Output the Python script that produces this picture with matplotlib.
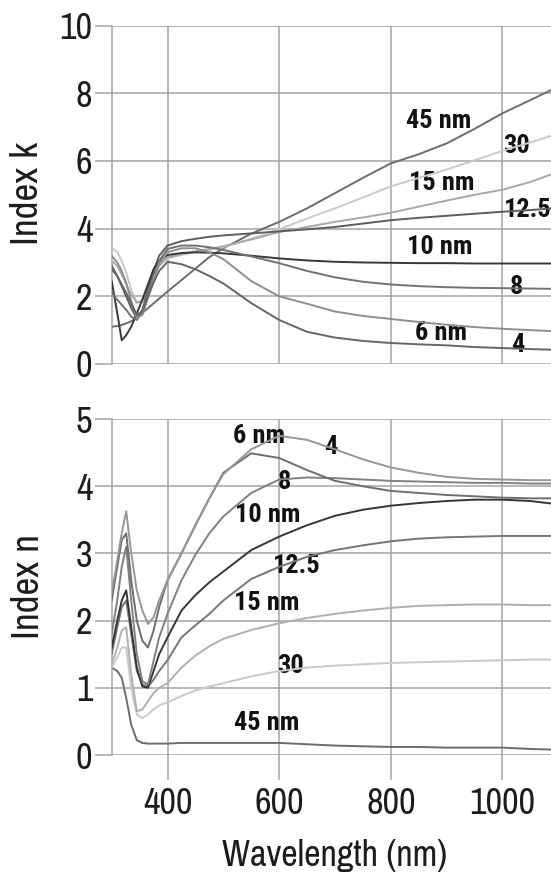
import matplotlib
matplotlib.use("Agg")
import matplotlib.pyplot as plt

AXIS_FONT = ["Archivo Narrow", "Liberation Sans", "DejaVu Sans"]
LABEL_FONT = ["Roboto Condensed", "Fira Sans Condensed", "Liberation Sans", "DejaVu Sans"]
plt.rcParams["font.family"] = AXIS_FONT

# --- data -------------------------------------------------------------------
wavelength = [300, 310, 318, 326, 335, 345, 355, 365, 375, 385, 400, 425, 450, 475,
              500, 550, 600, 650, 700, 750, 800, 850, 900, 950, 1000, 1050, 1090]

# extinction coefficient k per film thickness
k_45 = [1.10, 1.12, 1.15, 1.20, 1.26, 1.37, 1.51, 1.65, 1.79, 1.93, 2.14, 2.48, 2.82, 3.16,
        3.42, 3.85, 4.20, 4.60, 5.05, 5.50, 5.93, 6.20, 6.52, 6.95, 7.41, 7.80, 8.12]
k_30 = [3.45, 3.30, 3.05, 2.70, 2.20, 1.80, 1.90, 2.30, 2.65, 2.92, 3.12, 3.22, 3.30, 3.37,
        3.45, 3.70, 3.98, 4.30, 4.60, 4.92, 5.25, 5.50, 5.75, 6.02, 6.30, 6.55, 6.76]
k_15 = [3.05, 2.90, 2.65, 2.35, 2.05, 1.82, 1.85, 2.20, 2.60, 2.90, 3.15, 3.25, 3.33, 3.40,
        3.48, 3.68, 3.90, 4.05, 4.20, 4.33, 4.47, 4.65, 4.83, 5.00, 5.15, 5.38, 5.62]
k_125 = [2.90, 2.60, 2.30, 2.00, 1.65, 1.35, 1.60, 2.20, 2.75, 3.20, 3.50, 3.63, 3.70, 3.76,
         3.80, 3.86, 3.92, 3.98, 4.05, 4.15, 4.25, 4.32, 4.38, 4.44, 4.50, 4.55, 4.60]
k_10 = [2.45, 1.50, 0.70, 0.85, 1.10, 1.50, 1.90, 2.35, 2.80, 3.05, 3.22, 3.28, 3.30, 3.29,
        3.27, 3.20, 3.12, 3.06, 3.02, 3.00, 2.99, 2.98, 2.98, 2.97, 2.97, 2.97, 2.97]
k_8 = [2.10, 1.90, 1.75, 1.60, 1.40, 1.30, 1.55, 2.10, 2.60, 3.05, 3.40, 3.50, 3.50, 3.45,
       3.37, 3.18, 2.98, 2.75, 2.56, 2.43, 2.35, 2.30, 2.27, 2.25, 2.24, 2.23, 2.22]
k_6 = [3.20, 3.00, 2.75, 2.40, 1.85, 1.35, 1.45, 1.95, 2.50, 2.95, 3.30, 3.42, 3.42, 3.30,
       3.10, 2.45, 2.00, 1.78, 1.55, 1.42, 1.33, 1.24, 1.16, 1.09, 1.04, 1.00, 0.97]
k_4 = [2.80, 2.60, 2.35, 2.10, 1.80, 1.45, 1.55, 2.00, 2.40, 2.75, 3.02, 2.95, 2.80, 2.60,
       2.38, 1.80, 1.30, 0.95, 0.78, 0.68, 0.62, 0.58, 0.55, 0.50, 0.47, 0.44, 0.42]

# refractive index n per film thickness
n_45 = [1.30, 1.25, 1.15, 0.85, 0.45, 0.22, 0.18, 0.17, 0.17, 0.17, 0.17, 0.18, 0.18, 0.18,
        0.18, 0.18, 0.18, 0.16, 0.14, 0.13, 0.12, 0.12, 0.11, 0.11, 0.11, 0.09, 0.08]
n_30 = [1.30, 1.45, 1.60, 1.60, 1.00, 0.60, 0.55, 0.60, 0.68, 0.74, 0.78, 0.88, 0.96, 1.02,
        1.07, 1.17, 1.25, 1.30, 1.33, 1.35, 1.37, 1.38, 1.39, 1.40, 1.41, 1.42, 1.42]
n_15 = [1.35, 1.60, 1.85, 1.90, 1.20, 0.65, 0.68, 0.80, 0.92, 1.00, 1.07, 1.30, 1.48, 1.62,
        1.73, 1.86, 1.96, 2.04, 2.10, 2.15, 2.19, 2.22, 2.23, 2.24, 2.24, 2.23, 2.23]
n_125 = [1.50, 1.90, 2.20, 2.30, 1.80, 1.25, 1.05, 1.02, 1.12, 1.25, 1.41, 1.75, 1.93, 2.10,
         2.30, 2.62, 2.80, 2.95, 3.05, 3.12, 3.18, 3.22, 3.24, 3.25, 3.26, 3.26, 3.26]
n_10 = [1.60, 2.00, 2.30, 2.45, 1.90, 1.30, 1.02, 1.00, 1.25, 1.50, 1.75, 2.15, 2.38, 2.57,
        2.73, 3.05, 3.25, 3.42, 3.56, 3.65, 3.71, 3.75, 3.78, 3.80, 3.80, 3.78, 3.74]
n_8 = [1.80, 2.30, 2.80, 3.10, 2.30, 1.50, 1.10, 1.05, 1.40, 1.75, 2.10, 2.60, 2.98, 3.30,
       3.55, 3.90, 4.10, 4.13, 4.12, 4.10, 4.08, 4.07, 4.06, 4.05, 4.05, 4.04, 4.04]
n_6 = [2.30, 2.80, 3.20, 3.30, 2.60, 2.00, 1.70, 1.60, 1.85, 2.20, 2.60, 3.00, 3.42, 3.82,
       4.20, 4.49, 4.42, 4.24, 4.08, 4.00, 3.93, 3.90, 3.87, 3.85, 3.83, 3.82, 3.82]
n_4 = [2.40, 2.90, 3.30, 3.63, 3.00, 2.45, 2.15, 1.95, 2.05, 2.30, 2.60, 3.00, 3.42, 3.82,
       4.18, 4.55, 4.75, 4.69, 4.55, 4.40, 4.28, 4.20, 4.14, 4.11, 4.10, 4.09, 4.09]

# inline labels: text, wavelength, value
k_labels = [("45 nm", 885, 7.18), ("30", 1026, 6.44), ("15 nm", 892, 5.35),
            ("12.5", 1045, 4.55), ("10 nm", 888, 3.46), ("8", 1025, 2.28),
            ("6 nm", 890, 0.92), ("4", 1027, 0.55)]
n_labels = [("6 nm", 564, 4.75), ("4", 693, 4.58), ("8", 609, 4.06),
            ("10 nm", 579, 3.57), ("12.5", 632, 2.81), ("15 nm", 577, 2.26),
            ("30", 620, 1.32), ("45 nm", 578, 0.48)]

k_curves = [(k_45, "#6c6c6c"), (k_30, "#c9c9c9"), (k_15, "#a9a9a9"), (k_125, "#5e5e5e"),
            (k_10, "#383838"), (k_8, "#727272"), (k_6, "#8e8e8e"), (k_4, "#666666")]
n_curves = [(n_45, "#6c6c6c"), (n_30, "#c9c9c9"), (n_15, "#b0b0b0"), (n_125, "#767676"),
            (n_10, "#363636"), (n_8, "#808080"), (n_6, "#6e6e6e"), (n_4, "#969696")]

GRID = "#a4a4a4"
INK = "#1c1c1c"

fig = plt.figure(figsize=(5.51, 8.77), dpi=100)
ax_k = fig.add_axes([0.2027, 0.585, 0.7973, 0.3857])
ax_n = fig.add_axes([0.2027, 0.1391, 0.7973, 0.3831])


def style_axes(ax, ymax, yticks, show_x):
    ax.set_xlim(300, 1087)
    ax.set_ylim(0, ymax)
    ax.set_yticks(yticks)
    ax.set_xticks([400, 600, 800, 1000])
    ax.set_axisbelow(True)
    ax.grid(True, color=GRID, linewidth=1.1)
    for side in ["top", "right", "bottom"]:
        ax.spines[side].set_visible(False)
    ax.spines["left"].set_color(GRID)
    ax.spines["left"].set_linewidth(1.1)
    ax.tick_params(axis="y", length=12, width=1.1, color=GRID, pad=2,
                   labelsize=26, labelcolor=INK)
    if show_x:
        ax.tick_params(axis="x", length=18, width=1.1, color=GRID, pad=5,
                       labelsize=26, labelcolor=INK)
    else:
        ax.tick_params(axis="x", length=0, labelbottom=False)


for ax, curves, labels in [(ax_k, k_curves, k_labels), (ax_n, n_curves, n_labels)]:
    for values, color in curves:
        ax.plot(wavelength, values, color=color, linewidth=1.4, zorder=3)
    for text, x, y in labels:
        ax.text(x, y, text, ha="center", va="center", fontsize=19, fontweight="bold",
                family=LABEL_FONT, color="#111111", zorder=2)

style_axes(ax_k, 10, [0, 2, 4, 6, 8, 10], False)
style_axes(ax_n, 5, [0, 1, 2, 3, 4, 5], True)

fig.text(0.050, 0.78, "Index k", rotation=90, ha="center", va="center",
         fontsize=28, color=INK)
fig.text(0.052, 0.331, "Index n", rotation=90, ha="center", va="center",
         fontsize=28, color=INK)
fig.text(0.608, 0.025, "Wavelength (nm)", ha="center", va="center",
         fontsize=26, color=INK)

fig.savefig("out.png", dpi=100)
